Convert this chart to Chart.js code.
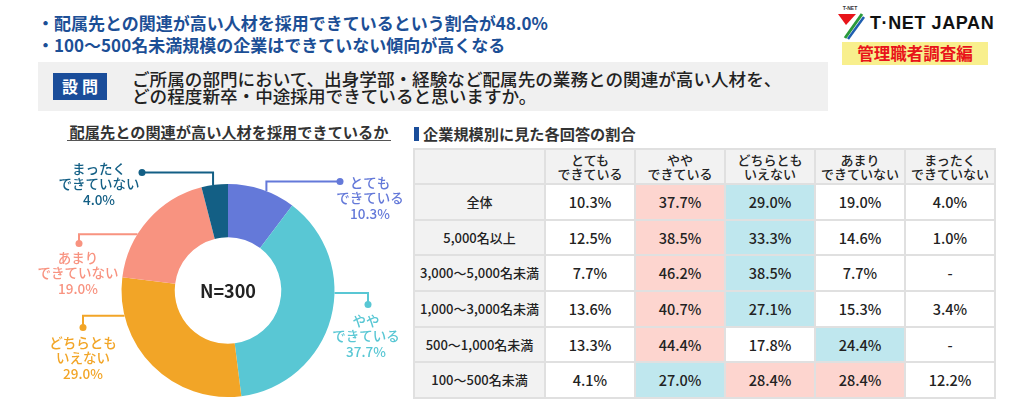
<!DOCTYPE html>
<html lang="ja">
<head>
<meta charset="utf-8">
<script src="https://cdn.jsdelivr.net/npm/chart.js@4.4.1/dist/chart.umd.min.js"></script>
<style>
  body { margin: 0; width: 1024px; height: 408px; background: #fff; position: relative; overflow: hidden;
         font-family: "Noto Sans CJK JP", sans-serif; color: #222; }
  .abs { position: absolute; }
  #points { left: 37px; top: 12px; color: #1c4f96; font-weight: 700; font-size: 17px; line-height: 22px; white-space: nowrap; }
  #question { left: 38px; top: 62px; width: 790px; height: 49px; background: #f0f0f0; }
  #qtag { left: 53px; top: 73px; width: 54px; height: 27px; background: #1a4d9a; color: #fff; font-weight: 700;
          font-size: 16px; line-height: 27px; text-align: center; letter-spacing: 4px; text-indent: 4px; }
  #qtext { left: 132px; top: 70px; font-size: 17.6px; line-height: 17px; font-weight: 500; white-space: nowrap; color: #222; }
  #brand { left: 870px; top: 12px; font-family: "Liberation Sans", sans-serif; font-weight: 700; font-size: 18px;
           line-height: 22px; letter-spacing: 0.6px; color: #111; white-space: nowrap; }
  #series { left: 842px; top: 42px; width: 146px; height: 23px; background: #f8ef8d; color: #e8141a; font-weight: 700;
            font-size: 16.5px; line-height: 23px; text-align: center; }
  #donutTitle { left: 67px; top: 123px; width: 324px; text-align: center; font-weight: 700; font-size: 15.2px;
                line-height: 17px; border-bottom: 1.5px solid #555; color: #333; white-space: nowrap; }
  #donut { left: 0; top: 145px; }
  #tableBar { left: 414px; top: 127px; width: 5px; height: 14px; background: #1a4d9a; }
  #tableTitle { left: 423px; top: 124px; font-weight: 700; font-size: 15.2px; line-height: 18px; color: #333; white-space: nowrap; }
  #grid { left: 413px; top: 148px; border-collapse: collapse; table-layout: fixed; width: 581px; }
  #grid td, #grid th { border: 2px solid #e0e0e0; padding: 0; text-align: center; white-space: nowrap; }
  #grid tr.head { height: 35px; }
  #grid tr.body { height: 35.7px; }
  #grid th { background: #f2f2f2; font-weight: 500; font-size: 13px; line-height: 14px; color: #222; }
  #grid td { font-size: 14.5px; line-height: 16px; font-weight: 500; color: #222; }
  #grid td.rowname { background: #f2f2f2; font-size: 13px; font-weight: 500; }
  #grid td.top { background: #fdd5cf; }
  #grid td.second { background: #bfe7ee; }
</style>
</head>
<body>
<div class="abs" id="points">
  <div>・配属先との関連が高い人材を採用できているという割合が48.0%</div>
  <div>・100～500名未満規模の企業はできていない傾向が高くなる</div>
</div>

<svg class="abs" style="left:836px; top:5px;" width="30" height="36" viewBox="0 0 30 36">
  <text x="14" y="5" font-size="5" font-family="Liberation Sans" font-weight="700" text-anchor="middle" fill="#333">T-NET</text>
  <polygon points="2,9 20,9 10,20" fill="#e8141a"/>
  <line x1="9" y1="33" x2="26" y2="9" stroke="#2a9a3a" stroke-width="3"/>
  <line x1="12" y1="34" x2="28" y2="12" stroke="#1f5fb0" stroke-width="2.5"/>
</svg>
<div class="abs" id="brand">T·NET JAPAN</div>
<div class="abs" id="series">管理職者調査編</div>

<div class="abs" id="question"></div>
<div class="abs" id="qtag">設問</div>
<div class="abs" id="qtext">ご所属の部門において、出身学部・経験など配属先の業務との関連が高い人材を、<br>どの程度新卒・中途採用できていると思いますか。</div>

<div class="abs" id="donutTitle">配属先との関連が高い人材を採用できているか</div>
<canvas class="abs" id="donut" width="410" height="263"></canvas>

<div class="abs" id="tableBar"></div>
<div class="abs" id="tableTitle">企業規模別に見た各回答の割合</div>
<table class="abs" id="grid"></table>

<script>
const answerLabels = [
    ['とても', 'できている'],
    ['やや', 'できている'],
    ['どちらとも', 'いえない'],
    ['あまり', 'できていない'],
    ['まったく', 'できていない'],
];
const answerColors = ['#6479d9', '#59c7d4', '#f2a527', '#f89380', '#135f85'];
const overallShare = [10.3, 37.7, 29.0, 19.0, 4.0];
const sampleSize = 300;

const sizeLabels = ['全体', '5,000名以上', '3,000～5,000名未満', '1,000～3,000名未満', '500～1,000名未満', '100～500名未満'];
const sizeShares = [
    [10.3, 37.7, 29.0, 19.0, 4.0],
    [12.5, 38.5, 33.3, 14.6, 1.0],
    [7.7, 46.2, 38.5, 7.7, null],
    [13.6, 40.7, 27.1, 15.3, 3.4],
    [13.3, 44.4, 17.8, 24.4, null],
    [4.1, 27.0, 28.4, 28.4, 12.2],
];

// table
const grid = document.getElementById('grid');
let html = '<colgroup><col style="width:131px">' + answerLabels.map(() => '<col style="width:90px">').join('') + '</colgroup>';
html += '<tr class="head"><th></th>' + answerLabels.map(l => '<th>' + l.join('<br>') + '</th>').join('') + '</tr>';
sizeShares.forEach((row, r) => {
    const vals = row.filter(v => v !== null);
    const top = Math.max(...vals);
    const second = Math.max(...vals.filter(v => v < top));
    html += '<tr class="body"><td class="rowname">' + sizeLabels[r] + '</td>';
    row.forEach(v => {
        let cls = '';
        if (v === top) cls = 'top';
        else if (v === second) cls = 'second';
        html += '<td class="' + cls + '">' + (v === null ? '-' : v.toFixed(1) + '%') + '</td>';
    });
    html += '</tr>';
});
grid.innerHTML = html;

// callout lines and labels around the doughnut
const calloutLayout = [
    { frac: 0.57, dot: [112, -109], mode: 'v', text: [142, -108] },
    { frac: 0.40, dot: [140, 14], mode: 'h', text: [138, 30] },
    { frac: 0.80, dot: [-145, 37], mode: 'h', text: [-145, 52] },
    { frac: 0.36, dot: [-149, -47], mode: 'h', text: [-150, -33] },
    { frac: 0.44, dot: [-86, -118], mode: 'v', text: [-129, -122] },
];

const callouts = {
    id: 'callouts',
    afterDatasetsDraw(chart) {
        const ctx = chart.ctx;
        const arcs = chart.getDatasetMeta(0).data;
        ctx.save();
        arcs.forEach((arc, i) => {
            const c = calloutLayout[i];
            const cx = arc.x, cy = arc.y;
            const a = arc.startAngle + c.frac * (arc.endAngle - arc.startAngle);
            const ex = cx + arc.outerRadius * Math.cos(a);
            const ey = cy + arc.outerRadius * Math.sin(a);
            const dx = cx + c.dot[0], dy = cy + c.dot[1];
            ctx.strokeStyle = answerColors[i];
            ctx.fillStyle = answerColors[i];
            ctx.lineWidth = 2;
            ctx.beginPath();
            ctx.moveTo(ex, ey);
            if (c.mode === 'v') ctx.lineTo(ex, dy);
            else ctx.lineTo(dx, ey);
            ctx.lineTo(dx, dy);
            ctx.stroke();
            ctx.beginPath();
            ctx.arc(dx, dy, 3.5, 0, Math.PI * 2);
            ctx.fill();

            ctx.font = '500 13.5px "Noto Sans CJK JP"';
            ctx.textAlign = 'center';
            ctx.textBaseline = 'middle';
            const lines = answerLabels[i].concat([overallShare[i].toFixed(1) + '%']);
            lines.forEach((t, k) => ctx.fillText(t, cx + c.text[0], cy + c.text[1] + k * 15.5));
        });
        ctx.restore();
    }
};

const centerText = {
    id: 'centerText',
    afterDatasetsDraw(chart) {
        const arc = chart.getDatasetMeta(0).data[0];
        const ctx = chart.ctx;
        ctx.save();
        ctx.font = 'bold 18px "Noto Sans CJK JP"';
        ctx.fillStyle = '#222';
        ctx.textAlign = 'center';
        ctx.textBaseline = 'middle';
        ctx.fillText('N=' + sampleSize, arc.x, arc.y + 1);
        ctx.restore();
    }
};

const donutChart = new Chart(document.getElementById('donut'), {
    type: 'doughnut',
    data: {
        labels: answerLabels.map(l => l.join('')),
        datasets: [{
            data: overallShare,
            backgroundColor: answerColors,
            borderWidth: 0,
        }]
    },
    options: {
        responsive: false,
        animation: false,
        cutout: '50%',
        layout: { padding: { left: 121, right: 75, top: 39, bottom: 11 } },
        plugins: {
            legend: { display: false },
            tooltip: { enabled: false },
        }
    },
    plugins: [callouts, centerText]
});
</script>
</body>
</html>
